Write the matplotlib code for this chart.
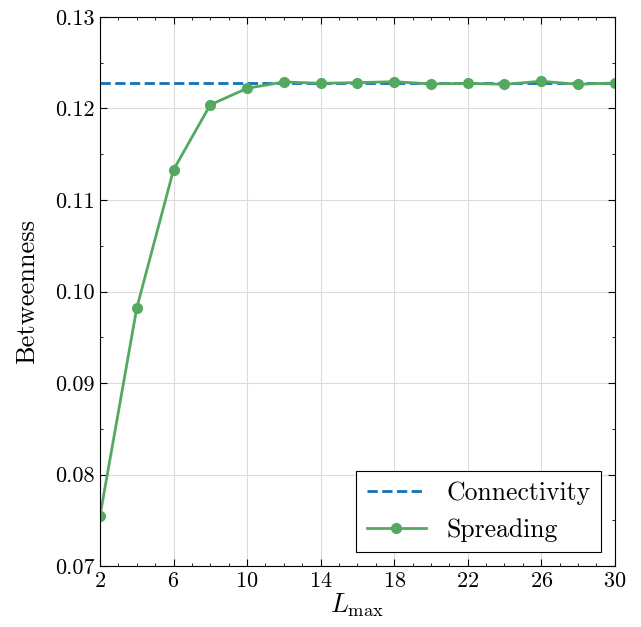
import matplotlib
matplotlib.use("Agg")
import matplotlib.pyplot as plt
from matplotlib.ticker import MultipleLocator

# betweenness vs. maximum path length
l_max = [2, 4, 6, 8, 10, 12, 14, 16, 18, 20, 22, 24, 26, 28, 30]
spreading = [0.0755, 0.0982, 0.1133, 0.1204, 0.1222, 0.1229, 0.12275, 0.12282,
             0.12293, 0.12268, 0.12275, 0.12264, 0.12297, 0.12264, 0.12279]
connectivity = 0.12275
x_ticks = [2, 6, 10, 14, 18, 22, 26, 30]

plt.rcParams.update({
    "font.family": "serif",
    "font.serif": ["cmr10"],
    "mathtext.fontset": "cm",
    "axes.formatter.use_mathtext": True,
    "font.size": 16,
    "xtick.direction": "in",
    "ytick.direction": "in",
    "xtick.top": True,
    "ytick.right": True,
    "xtick.major.size": 5,
    "ytick.major.size": 5,
    "xtick.minor.size": 2.5,
    "ytick.minor.size": 2.5,
    "xtick.minor.visible": True,
    "ytick.minor.visible": True,
})

fig, ax = plt.subplots(figsize=(6.41, 6.27), dpi=100)
ax.axhline(connectivity, color="#1272B6", ls="--", lw=2, label="Connectivity")
ax.plot(l_max, spreading, color="#52A95F", marker="o", ms=7, lw=2, label="Spreading")

ax.set_xlim(2, 30)
ax.set_ylim(0.07, 0.13)
ax.set_xticks(x_ticks)
ax.xaxis.set_minor_locator(MultipleLocator(1))
ax.yaxis.set_major_locator(MultipleLocator(0.01))
ax.yaxis.set_minor_locator(MultipleLocator(0.005))
ax.yaxis.set_major_formatter(plt.FormatStrFormatter("%.2f"))
ax.grid(True, which="major", color="#dcdcdc", lw=0.8)
ax.set_axisbelow(True)

ax.set_xlabel(r"$L_{\max}$", fontsize=19, labelpad=1)
ax.set_ylabel("Betweenness", fontsize=19, labelpad=12)

leg = ax.legend(loc="lower right", fancybox=False, edgecolor="black",
                fontsize=18.5, framealpha=1, borderaxespad=0.55, handlelength=2.3)
leg.get_frame().set_linewidth(0.8)

fig.subplots_adjust(left=0.156, right=0.959, top=0.973, bottom=0.097)
fig.savefig("out.png", dpi=100)
